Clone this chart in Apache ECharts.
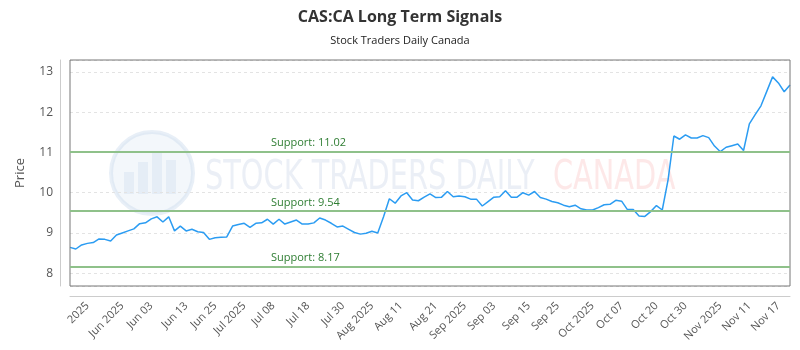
<!DOCTYPE html>
<html>
<head>
<meta charset="utf-8">
<script src="https://cdn.jsdelivr.net/npm/echarts@6/dist/echarts.min.js"></script>
<style>html,body{margin:0;padding:0;background:#fff;}#c{width:800px;height:350px;}</style>
</head>
<body>
<div id="c"></div>
<script>
const prices = [8.64,8.60,8.70,8.74,8.76,8.85,8.84,8.80,8.95,9.00,
9.05,9.10,9.23,9.25,9.35,9.40,9.27,9.40,9.05,9.17,
9.05,9.09,9.03,9.01,8.84,8.88,8.89,8.90,9.17,9.21,
9.24,9.14,9.24,9.25,9.34,9.22,9.34,9.22,9.27,9.32,
9.22,9.22,9.25,9.37,9.32,9.24,9.15,9.17,9.09,9.01,
8.97,8.99,9.04,9.00,9.40,9.85,9.74,9.92,10.00,9.82,
9.80,9.89,9.97,9.88,9.89,10.03,9.90,9.92,9.90,9.84,
9.84,9.67,9.78,9.89,9.90,10.05,9.89,9.89,10.00,9.94,
10.03,9.88,9.84,9.78,9.75,9.69,9.65,9.69,9.60,9.57,
9.57,9.63,9.70,9.71,9.81,9.79,9.58,9.58,9.42,9.41,
9.53,9.68,9.57,10.32,11.41,11.33,11.44,11.36,11.36,11.42,
11.37,11.16,11.02,11.13,11.17,11.21,11.05,11.71,11.94,12.16,
12.52,12.88,12.73,12.51,12.68];
const tickLabels = ['2025','Jun 2025','Jun 03','Jun 13','Jun 25','Jul 2025','Jul 08','Jul 18','Jul 30','Aug 2025','Aug 11','Aug 21','Sep 2025','Sep 03','Sep 15','Sep 25','Oct 2025','Oct 07','Oct 20','Oct 30','Nov 2025','Nov 11','Nov 17'];
const tickIndex = [3,9,14,20,25,30,35,41,47,52,57,63,68,73,79,84,90,95,101,106,112,117,122];
const supports = [11.02, 9.54, 8.17];

const categories = prices.map((_, i) => {
  const k = tickIndex.indexOf(i);
  return k >= 0 ? tickLabels[k] : '';
});

const chart = echarts.init(document.getElementById('c'));
chart.setOption({
  animation: false,
  title: {
    text: 'CAS:CA Long Term Signals',
    subtext: 'Stock Traders Daily Canada',
    left: 'center',
    top: 4,
    itemGap: 10,
    textStyle: {fontFamily: 'Open Sans', fontSize: 16, fontWeight: 'bold', color: '#333'},
    subtextStyle: {fontFamily: 'Open Sans', fontSize: 11, color: '#222'}
  },
  graphic: [
    {type: 'circle', z: -1, shape: {cx: 152, cy: 173, r: 41}, style: {fill: 'rgba(225,235,245,0.4)', stroke: 'rgba(205,220,238,0.45)', lineWidth: 4}, silent: true},
    {type: 'rect', z: -1, shape: {x: 124, y: 172, width: 10, height: 22}, style: {fill: 'rgba(200,215,235,0.3)'}, silent: true},
    {type: 'rect', z: -1, shape: {x: 138, y: 162, width: 10, height: 32}, style: {fill: 'rgba(200,215,235,0.3)'}, silent: true},
    {type: 'rect', z: -1, shape: {x: 152, y: 152, width: 10, height: 42}, style: {fill: 'rgba(200,215,235,0.3)'}, silent: true},
    {type: 'rect', z: -1, shape: {x: 166, y: 160, width: 10, height: 34}, style: {fill: 'rgba(200,215,235,0.3)'}, silent: true},
    {type: 'text', z: -1, x: 205, y: 178, scaleY: 1.3, silent: true,
      style: {text: 'STOCK TRADERS DAILY', font: '32px "Liberation Sans Narrow", "DejaVu Sans Condensed", sans-serif', fill: 'rgba(205,215,232,0.4)', textVerticalAlign: 'middle'}},
    {type: 'text', z: -1, x: 553, y: 178, scaleY: 1.3, silent: true,
      style: {text: 'CANADA', font: '32px "Liberation Sans Narrow", "DejaVu Sans Condensed", sans-serif', fill: 'rgba(250,205,205,0.45)', textVerticalAlign: 'middle'}}
  ],
  grid: {left: 70, right: 10, top: 60, bottom: 64, show: true, z: 5, borderColor: '#777', borderWidth: 1, backgroundColor: 'transparent'},
  xAxis: {
    type: 'category',
    data: categories,
    boundaryGap: false,
    offset: 10,
    axisLine: {lineStyle: {color: '#ccc'}},
    axisTick: {show: false},
    splitLine: {show: false},
    axisLabel: {
      interval: (i) => tickIndex.indexOf(i) >= 0,
      rotate: 45,
      fontFamily: 'Open Sans',
      fontSize: 11,
      color: '#555',
      margin: 8
    }
  },
  yAxis: {
    type: 'value',
    min: 7.68,
    max: 13.3,
    splitNumber: 5,
    offset: 10,
    name: 'Price',
    nameLocation: 'middle',
    nameGap: 33,
    nameTextStyle: {fontFamily: 'Open Sans', fontSize: 13, color: '#555'},
    axisLine: {show: true, lineStyle: {color: '#ccc'}},
    axisTick: {show: false},
    axisLabel: {
      fontFamily: 'Open Sans', fontSize: 12, color: '#555', margin: 7,
      formatter: (v) => Math.abs(v - Math.round(v)) < 1e-6 ? String(Math.round(v)) : ''
    },
    splitLine: {lineStyle: {color: '#e3e3e3', type: [3, 3]}}
  },
  series: [{
    type: 'line',
    data: prices,
    showSymbol: false,
    symbol: 'none',
    lineStyle: {color: '#2b9cf2', width: 1.5},
    markLine: {
      silent: true,
      symbol: 'none',
      lineStyle: {color: '#8fc18a', width: 2, type: 'solid'},
      label: {
        position: 'insideStartTop',
        distance: [201, 3],
        fontFamily: 'Open Sans',
        fontSize: 11,
        color: '#2e7d32',
        formatter: (p) => 'Support: ' + p.value.toFixed(2)
      },
      data: supports.map(v => ({yAxis: v}))
    }
  }]
});
</script>
</body>
</html>
